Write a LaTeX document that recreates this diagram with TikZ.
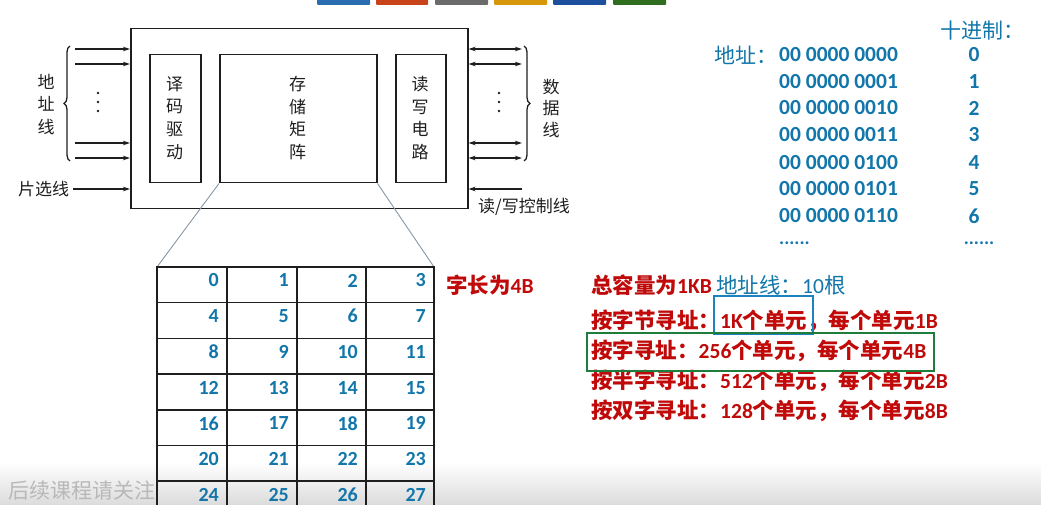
\documentclass[tikz,border=0pt]{standalone}
\usepackage{fontspec}
\setmainfont{Carlito}
\newfontfamily\cjk{Noto Sans CJK SC}
\usetikzlibrary{arrows.meta,decorations.pathreplacing}
\definecolor{ink}{RGB}{30,30,30}
\definecolor{numblue}{RGB}{18,118,170}
\definecolor{myred}{RGB}{192,10,10}
\definecolor{boxblue}{RGB}{30,130,190}
\definecolor{boxgreen}{RGB}{30,125,60}
\definecolor{zoomline}{RGB}{135,150,165}
\definecolor{tb1}{RGB}{42,108,176}
\definecolor{tb2}{RGB}{200,66,26}
\definecolor{tb3}{RGB}{107,107,107}
\definecolor{tb4}{RGB}{216,150,10}
\definecolor{tb5}{RGB}{28,79,156}
\definecolor{tb6}{RGB}{46,110,30}
\tikzset{
  box/.style={draw=ink, line width=1.5pt, inner sep=0, anchor=north west},
  arr/.style={draw=ink, line width=1.3pt, -{Stealth[length=7pt,width=4.5pt]}},
  darr/.style={draw=ink, line width=1.3pt, {Stealth[length=7pt,width=4.5pt]}-{Stealth[length=7pt,width=4.5pt]}},
  lbl/.style={font=\cjk\fontsize{17}{17}\selectfont, text=ink, inner sep=0},
  vlbl/.style={font=\cjk\fontsize{17}{22.7}\selectfont, text=ink, inner sep=0, align=center},
  dotm/.style={fill=ink},
  brc/.style={draw=ink, line width=1.3pt, decorate, decoration={brace, amplitude=6pt}},
  cell/.style={font=\bfseries\fontsize{20}{20}\selectfont, text=numblue, inner sep=0, anchor=east},
  redtxt/.style={font=\bfseries\fontsize{21.5}{21.5}\selectfont, text=myred, inner sep=0, anchor=west},
  bluetxt/.style={font=\fontsize{21.5}{21.5}\selectfont, text=numblue, inner sep=0, anchor=west},
  bintxt/.style={font=\bfseries\fontsize{21.5}{21.5}\selectfont, text=numblue, inner sep=0},
}
\begin{document}
\begin{tikzpicture}[x=1pt,y=-1pt]
\useasboundingbox (0,0) rectangle (1041,505);
\clip (0,0) rectangle (1041,505);

% bottom shading of the screenshot
\shade[top color=white, bottom color=black!14] (0,462) rectangle (1041,505);

% top toolbar bars
\fill[tb1, rounded corners=1pt] (317,-3) rectangle (370,5);
\fill[tb2, rounded corners=1pt] (376,-3) rectangle (428,5);
\fill[tb3, rounded corners=1pt] (435,-3) rectangle (488,5);
\fill[tb4, rounded corners=1pt] (494,-3) rectangle (547,5);
\fill[tb5, rounded corners=1pt] (553,-3) rectangle (606,5);
\fill[tb6, rounded corners=1pt] (613,-3) rectangle (666,5);

% ---------- memory chip ----------
\node[box, minimum width=337pt, minimum height=180pt] (outer) at (130,28) {};
\node[box, minimum width=51pt, minimum height=128pt] (dec) at (149,54) {};
\node[box, minimum width=157pt, minimum height=128pt] (mat) at (219,54) {};
\node[box, minimum width=50pt, minimum height=128pt] (rw) at (395,54) {};
\node[vlbl] (dect) at (174.5,118) {译\\码\\驱\\动};
\node[vlbl] (matt) at (297.5,118) {存\\储\\矩\\阵};
\node[vlbl] (rwt) at (420,118) {读\\写\\电\\路};

% address lines
\foreach \i/\y in {1/49,2/64,3/143,4/158}{
  \coordinate (a\i) at (75,\y);
  \draw[arr] (a\i) -- (a\i -| outer.west);
  \coordinate (d\i) at (522,\y);
  \draw[darr] (d\i) -- (d\i -| outer.east);
}
\foreach \y in {93,102,111}{
  \fill[dotm] (98,\y) circle (1.4);
  \fill[dotm] (499,\y) circle (1.4);
}
\coordinate (lb1) at (70,161);
\coordinate (lb2) at (70,46);
\draw[brc] (lb1) -- (lb2);
\coordinate (rb1) at (524,46);
\coordinate (rb2) at (524,161);
\draw[brc] (rb1) -- (rb2);
\node[vlbl, font=\cjk\fontsize{17}{22.5}\selectfont] (addrl) at (46,104.5) {地\\址\\线};
\node[vlbl, font=\cjk\fontsize{17}{21.5}\selectfont] (datal) at (551,108.5) {数\\据\\线};

% chip select and r/w control
\node[lbl, anchor=west] (cs) at (18,189) {片选线};
\draw[arr] (cs.east) ++(4,0) -- (cs.east -| outer.west);
\coordinate (rwc) at (522,189);
\draw[arr] (rwc) -- (rwc -| outer.east);
\node[lbl, anchor=west] (rwl) at (478,207) {读/写控制线};

% ---------- zoom lines ----------
\coordinate (t0) at (157,267);
\coordinate (t4) at (434,267);
\draw[zoomline, line width=0.9pt] (mat.south west) -- (t0);
\draw[zoomline, line width=0.9pt] (mat.south east) -- (t4);

% ---------- table ----------
\foreach \c/\x in {0/157,1/227,2/297,3/366,4/434}{
  \draw[ink, line width=1.5pt] (\x,267) -- (\x,520);
}
\foreach \r in {0,...,7}{
  \draw[ink, line width=1.5pt] (156.25,267+35.7*\r) -- (434.75,267+35.7*\r);
}
\foreach \r in {0,...,6}{
  \foreach \c/\x in {0/227,1/297,2/366,3/434}{
    \pgfmathtruncatemacro{\n}{4*\r+\c}
    \node[cell] (n\n) at (\x-8,267+35.7*\r+13.5) {\n};
  }
}

% ---------- address listing ----------
\node[bluetxt, font=\cjk\fontsize{21}{21}\selectfont] (dech) at (940,31) {十进制：};
\node[bluetxt, font=\cjk\fontsize{21}{21}\selectfont] (addr) at (714,55) {地址：};
\foreach \i/\b/\y in {0/00 0000 0000/55,1/00 0000 0001/82,2/00 0000 0010/108,3/00 0000 0011/135,4/00 0000 0100/163,5/00 0000 0101/189,6/00 0000 0110/216}{
  \node[bintxt, anchor=west] (b\i) at (779,\y) {\b};
  \node[bintxt] (v\i) at (974,\y) {\i};
}
\node[bintxt, anchor=west, font=\bfseries\fontsize{19}{19}\selectfont] (bdots) at (779,243) {......};
\node[bintxt, font=\bfseries\fontsize{19}{19}\selectfont] (vdots) at (979,243) {......};

% ---------- explanation ----------
\node[redtxt] (wl) at (446,285) {{\cjk 字长为}4B};
\node[redtxt] (r1) at (591,285) {{\cjk 总容量为}1KB};
\node[bluetxt] (r1b) at (716,285) {{\cjk 地址线：}10{\cjk 根}};
\node[redtxt] (r2) at (591,321) {{\cjk 按字节寻址：}1K{\cjk 个单元，每个单元}1B};
\node[redtxt] (r3) at (591,351) {{\cjk 按字寻址：}256{\cjk 个单元，每个单元}4B};
\node[redtxt] (r4) at (591,381) {{\cjk 按半字寻址：}512{\cjk 个单元，每个单元}2B};
\node[redtxt] (r5) at (591,411) {{\cjk 按双字寻址：}128{\cjk 个单元，每个单元}8B};
\draw[boxblue, line width=2pt] (714,296) rectangle (813,334);
\draw[boxgreen, line width=2pt] (587,333) rectangle (934,371);

% watermark
\node[lbl, font=\cjk\fontsize{21}{21}\selectfont, text=black!28, anchor=west] (wm) at (8,490) {后续课程请关注};
\end{tikzpicture}
\end{document}
